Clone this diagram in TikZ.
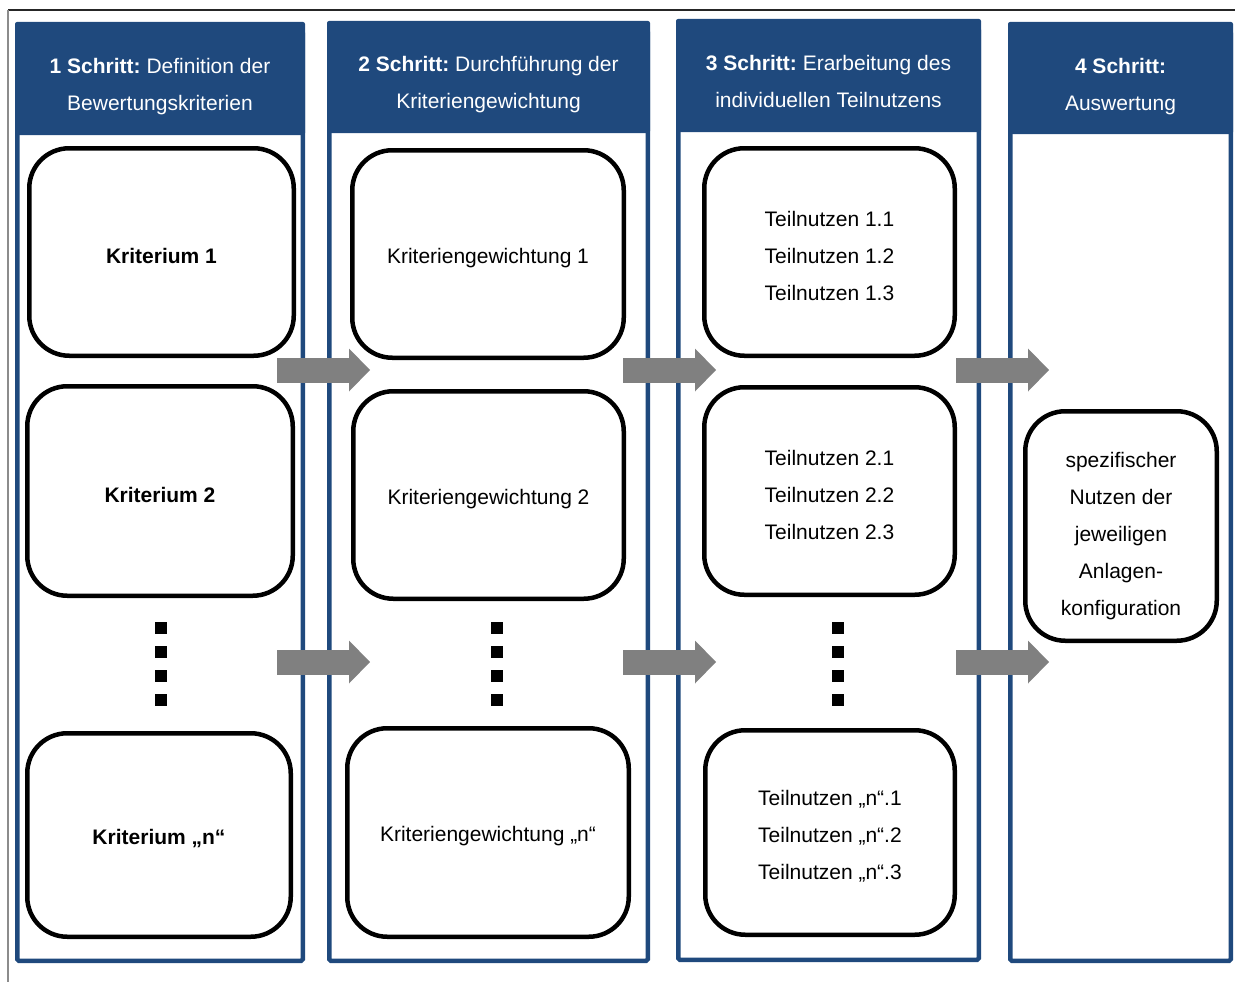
\documentclass[tikz,border=0pt]{standalone}
\usepackage{fontspec}
\setmainfont{Liberation Sans}
\frenchspacing
\usetikzlibrary{arrows.meta}

\definecolor{schrittblau}{RGB}{31,73,125}
\definecolor{pfeilgrau}{RGB}{128,128,128}

% Stuetze fuer die erste Textzeile in den Kaesten
\newcommand{\kstuetze}{\rule{0pt}{23pt}}

\tikzset{
  spalte/.style={draw=schrittblau, line width=4.5pt, rounded corners=1.5pt},
  kopf/.style={fill=schrittblau, rounded corners=2pt},
  kopftext/.style={text=white, align=center, inner sep=0pt, font=\fontsize{21}{37}\selectfont},
  kasten/.style={draw, line width=4.5pt, rounded corners=40pt, align=center, inner sep=0pt,
    font=\fontsize{21}{37}\selectfont},
  kastentext/.style={align=center, inner sep=0pt, font=\fontsize{21}{37}\selectfont},
  pfeil/.style={draw=pfeilgrau, line width=25pt, -{Triangle[length=21pt, width=43pt, line width=0pt]}},
}

\begin{document}
\begin{tikzpicture}[x=1pt, y=-1pt]
\useasboundingbox (0,0) rectangle (1235,982);

% Rahmen oben und links
\draw[black!85, line width=1.5pt] (8,10) -- (1235,10);
\draw[black!45, line width=1.5pt] (8,10) -- (8,982);

% Spalten mit Kopfleiste
\foreach \xa/\xb/\ya/\yk/\yb in {15/305/22/135/963, 327/650/21/133/963, 676/981/19/132/962, 1008/1233/22/134/963}{
  \draw[spalte] (\xa+2.25,\ya+10) rectangle (\xb-2.25,\yb-2.25);
  \fill[kopf] (\xa,\ya) rectangle (\xb,\yk);
}

\node[kopftext] (k1) at (160,87) {\textbf{1 Schritt:} Definition der\\Bewertungskriterien};
\node[kopftext] (k2) at (488.5,84.5) {\textbf{2 Schritt:} Durchführung der\\Kriteriengewichtung};
\node[kopftext] (k3) at (828.5,81) {\textbf{3 Schritt:} Erarbeitung des\\individuellen Teilnutzens};
\node[kopftext] (k4) at (1120.5,86.5) {\textbf{4 Schritt:}\\Auswertung};

% Schritt 1
\node[kasten, minimum width=264.5pt, minimum height=207.5pt] (krit1) at (161.5,252) {\kstuetze\textbf{Kriterium 1}};
\node[kasten, minimum width=265.5pt, minimum height=209.5pt] (krit2) at (160,491) {\kstuetze\textbf{Kriterium 2}};
\node[kasten, minimum width=263.5pt, minimum height=203.5pt] (kritn) at (159,835) {\kstuetze\textbf{Kriterium „n“}};

% Schritt 2
\node[kasten, minimum width=271.5pt, minimum height=207.5pt] (gew1) at (488,254) {\kstuetze Kriteriengewichtung 1};
\node[kasten, minimum width=270.5pt, minimum height=207.5pt] (gew2) at (488.5,495) {\kstuetze Kriteriengewichtung 2};
\node[kasten, minimum width=281.5pt, minimum height=208.5pt] (gewn) at (488,832.5) {\kstuetze Kriteriengewichtung „n“};

% Schritt 3
\node[kasten, minimum width=250.5pt, minimum height=207.5pt] (tn1) at (829.5,252) {\kstuetze Teilnutzen 1.1\\Teilnutzen 1.2\\Teilnutzen 1.3};
\node[kasten, minimum width=250.5pt, minimum height=207.5pt] (tn2) at (829.5,491) {\kstuetze Teilnutzen 2.1\\Teilnutzen 2.2\\Teilnutzen 2.3};
\node[kasten, minimum width=249.5pt, minimum height=204.5pt] (tnn) at (830,832.5) {\kstuetze Teilnutzen „n“.1\\Teilnutzen „n“.2\\Teilnutzen „n“.3};

% Schritt 4
\node[kasten, minimum width=191.5pt, minimum height=229.5pt] (nutzen) at (1121,526) {};
\node[kastentext] (nutzentext) at (1121,536) {spezifischer\\Nutzen der\\jeweiligen\\Anlagen-\\konfiguration};

% Punkte
\foreach \x in {161,497,838}
  \foreach \y in {628,652,676,700}
    \fill (\x-6,\y-6) rectangle ++(12,12);

% Pfeile zwischen den Spalten
\foreach \x/\n in {277/a,623/b,956/c}
  \foreach \y/\r in {370/1,662/2}{
    \coordinate (s\n\r) at (\x,\y);
    \coordinate (e\n\r) at (\x+93,\y);
    \draw[pfeil] (s\n\r) -- (e\n\r);
  }
\end{tikzpicture}
\end{document}
